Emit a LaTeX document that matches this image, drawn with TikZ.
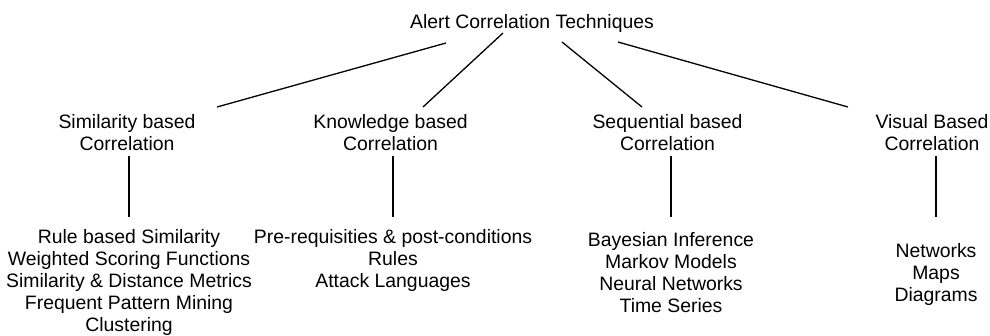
\documentclass[tikz,border=0pt]{standalone}
\usepackage{fontspec}
\setmainfont{Liberation Sans}
\begin{document}
\begin{tikzpicture}[x=1pt,y=-1pt,
  txt/.style={font=\fontsize{19.4}{21.8}\selectfont, align=center, inner sep=0pt, anchor=base},
  link/.style={line width=1.3pt, line cap=butt}]
\useasboundingbox (0,0) rectangle (990,335);

% root of the taxonomy (positions give the baseline of the last line)
\node[txt] (root) at (532,28) {Alert Correlation Techniques};

% four families of techniques
\node[txt] (sim) at (127,150) {Similarity based\\Correlation};
\node[txt] (know) at (390.5,150) {Knowledge based\\Correlation};
\node[txt] (seq) at (667.5,150) {Sequential based\\Correlation};
\node[txt] (vis) at (932,150) {Visual Based\\Correlation};

% methods of each family
\node[txt] (simL) at (129,331) {Rule based Similarity\\Weighted Scoring Functions\\Similarity \& Distance Metrics\\Frequent Pattern Mining\\Clustering};
\node[txt] (knowL) at (393,287.5) {Pre-requisities \& post-conditions\\Rules\\Attack Languages};
\node[txt] (seqL) at (671,312) {Bayesian Inference\\Markov Models\\Neural Networks\\Time Series};
\node[txt] (visL) at (936,301.5) {Networks\\Maps\\Diagrams};

% end points of the branches below the root
\coordinate (r1) at (446,43);
\coordinate (r2) at (503,33);
\coordinate (r3) at (562,42);
\coordinate (r4) at (618,42);
\coordinate (b1) at (217,107);
\coordinate (b2) at (423,107);
\coordinate (b3) at (642,107);
\coordinate (b4) at (848,107);

\draw[link] (r1) -- (b1);
\draw[link] (r2) -- (b2);
\draw[link] (r3) -- (b3);
\draw[link] (r4) -- (b4);

% stems from each family to its methods, all ending at one height
\coordinate (stemend) at ([yshift=12.5pt]simL.north);
\foreach \f in {sim,know,seq,vis}{
  \draw[link] ([yshift=-6pt]\f.south -| \f L.north) -- (\f L.north |- stemend);
}
\end{tikzpicture}
\end{document}
